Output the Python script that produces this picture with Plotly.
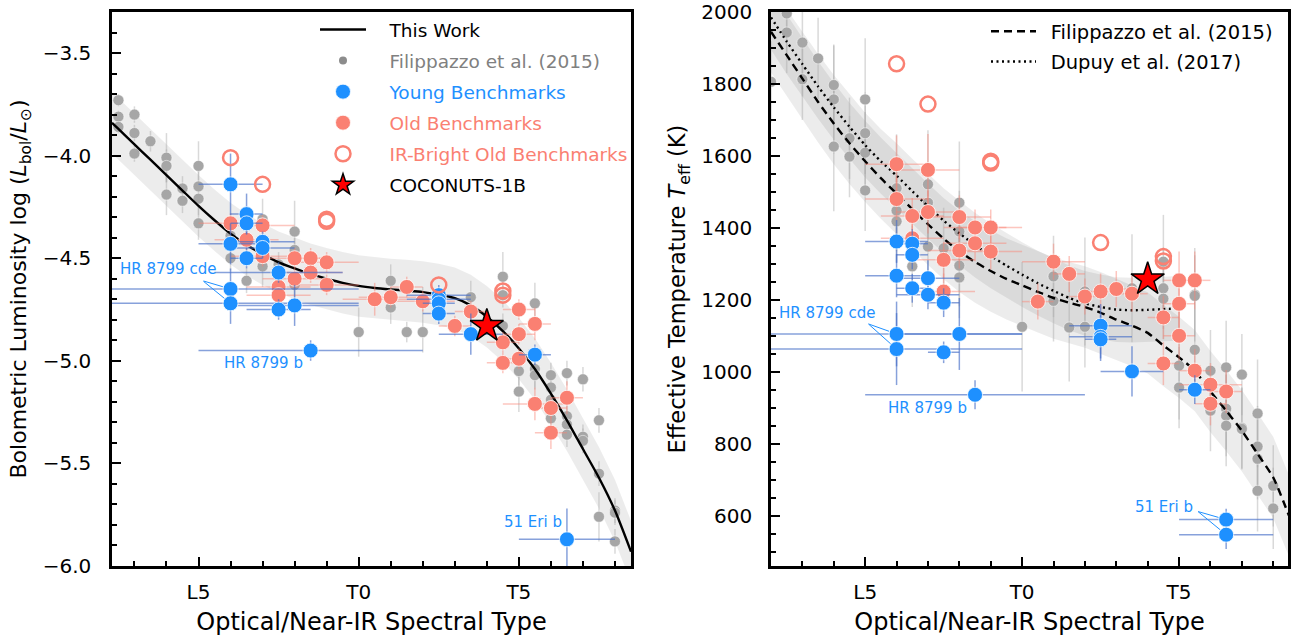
import plotly.graph_objects as go
import numpy as np

FONT = "DejaVu Sans"
BLUE = "#1E90FF"
SALMON = "#FA8072"
GRAYPT = "#a6a6a6"
BLUE_ERR = "rgba(70,110,200,0.65)"
SAL_ERR = "rgba(250,128,114,0.45)"
GRAY_ERR = "rgba(170,170,170,0.45)"

# ---------------- Left panel: Lbol vs SpT ----------------
# spectral type code: L0=10, L5=15, T0=20, T5=25
fil_l_spt = [12.5, 12.5, 12.5, 13, 13, 13, 13.5, 14, 14, 14, 14.5, 14.5, 15, 15, 15, 15,
             16, 16, 16.5, 17, 17, 17.5, 18, 18, 18, 20, 21, 21, 21.5, 22, 22, 23.5,
             24.5, 24.5, 24.5, 25.5, 25, 25, 25.5, 25.5, 26, 26, 26, 26, 26.5, 26.5, 26.5,
             26.5, 27, 27, 27, 27.5, 27.5, 27.5, 28, 28, 28]
fil_l_lbol = [-3.73, -3.81, -3.86, -3.80, -3.89, -3.99, -3.93, -4.01, -4.05, -4.19, -4.16, -4.22,
              -4.05, -4.15, -4.21, -4.33, -4.39, -4.50, -4.61, -4.31, -4.54, -4.53, -4.37, -4.46,
              -4.63, -4.86, -4.61, -4.74, -4.86, -4.86, -4.70, -4.69, -4.59, -4.68, -4.83, -4.72,
              -5.05, -5.15, -5.04, -5.07, -5.07, -5.13, -5.19, -5.28, -5.06, -5.27, -5.31, -5.36,
              -5.09, -5.37, -5.39, -5.29, -5.55, -5.76, -5.73, -5.74, -5.88]
fil_l_err = [0.03, 0.03, 0.03, 0.04, 0.04, 0.04, 0.05, 0.12, 0.08, 0.1, 0.06, 0.06, 0.12, 0.08,
             0.08, 0.08, 0.06, 0.06, 0.06, 0.1, 0.1, 0.06, 0.15, 0.06, 0.06, 0.12, 0.08, 0.08, 0.05,
             0.1, 0.06, 0.08, 0.12, 0.06, 0.06, 0.1, 0.1, 0.1, 0.1, 0.06, 0.06, 0.08, 0.06, 0.06,
             0.06, 0.08, 0.06, 0.06, 0.06, 0.06, 0.06, 0.06, 0.06, 0.12, 0.06, 0.06, 0.06]

yb_l_spt = [16, 16.5, 16.5, 16, 17, 17, 16.5, 17.5, 16, 16, 17.5, 18, 22.5, 22.5, 22.5, 22.5,
            23.5, 25.5, 18.5, 26.5]
yb_l_lbol = [-4.14, -4.285, -4.33, -4.43, -4.42, -4.45, -4.50, -4.57, -4.65, -4.72, -4.75, -4.73,
             -4.68, -4.70, -4.72, -4.77, -4.87, -4.97, -4.95, -5.87]
yb_l_ex = [1, 0.5, 0.5, 1, 1, 1, 0.5, 2, 4, 4, 1, 2, 1, 1, 0.5, 0.5, 1, 0.5, 3.5, 1.5]
yb_l_ey = [0.15, 0.1, 0.05, 0.1, 0.05, 0.05, 0.05, 0.05, 0.1, 0.1, 0.05, 0.1, 0.05, 0.05, 0.05,
           0.05, 0.1, 0.05, 0.05, 0.15]

ob_l_spt = [16, 16.5, 17, 17, 17.5, 17.5, 18, 18, 18.5, 18.5, 19, 19, 20.5, 21, 21.5, 22, 23,
            23.5, 24.5, 24.5, 25, 25, 25, 25.5, 25.5, 26, 26, 26.5]
ob_l_lbol = [-4.33, -4.41, -4.34, -4.49, -4.64, -4.68, -4.50, -4.60, -4.50, -4.57, -4.52, -4.63,
             -4.70, -4.69, -4.64, -4.71, -4.83, -4.76, -4.91, -5.01, -4.75, -4.87, -4.99, -4.82,
             -5.21, -5.23, -5.35, -5.18]
ob_l_ex = [1, 1, 1, 1, 1, 1, 1, 1, 0.5, 1, 1, 1, 1, 1, 0.5, 1, 0.5, 0.5, 0.5, 0.5, 0.5, 0.5,
           0.5, 0.5, 1, 0.5, 0.5, 0.5]
ob_l_ey = [0.05, 0.05, 0.05, 0.05, 0.05, 0.05, 0.05, 0.05, 0.05, 0.05, 0.05, 0.05, 0.08, 0.05,
           0.05, 0.05, 0.05, 0.05, 0.05, 0.05, 0.05, 0.05, 0.05, 0.08, 0.08, 0.05, 0.08, 0.08]

ir_l_spt = [16, 17, 19, 19, 22.5, 24.5, 24.5]
ir_l_lbol = [-4.01, -4.14, -4.31, -4.32, -4.63, -4.66, -4.68]

star_spt = [24]
star_lbol = [-4.83]
star_teff = [1257]

# "This Work" polynomial relation
tw_spt = [12.3, 12.5, 13.0, 13.5, 14.0, 14.5, 15.0, 15.5, 16.0, 16.5, 17.0, 17.5, 18.0, 18.5,
          19.0, 19.5, 20.0, 20.5, 21.0, 21.5, 22.0, 22.5, 23.0, 23.5, 24.0, 24.5, 25.0, 25.5,
          26.0, 26.5, 27.0, 27.5, 28.0, 28.5]
tw_lbol = [-3.84, -3.87, -3.945, -4.02, -4.095, -4.17, -4.245, -4.315, -4.38, -4.435, -4.48,
           -4.52, -4.55, -4.578, -4.60, -4.62, -4.635, -4.645, -4.652, -4.658, -4.665, -4.677,
           -4.695, -4.73, -4.785, -4.855, -4.94, -5.04, -5.16, -5.29, -5.43, -5.57, -5.73,
           -5.93]
tw_rms = 0.15

# ---------------- Right panel: Teff vs SpT ----------------
fil_r_spt = [12, 12.5, 12.5, 13, 13, 13.5, 14, 14, 14, 14.5, 14.5, 15, 15, 15, 15, 16, 16, 16,
             16.5, 17, 17, 17, 17.5, 18, 18, 18, 18, 20, 21, 21, 21.5, 22, 22, 23.5, 24.5, 24.5,
             24.5, 25, 25, 25.5, 25.5, 25.5, 26, 26, 26.5, 26.5, 26.5, 26.5, 27, 27, 27, 27.5,
             27.5, 27.5, 27.5, 28, 28]
fil_r_teff = [1806, 1996, 1943, 1915, 1813, 1871, 1797, 1757, 1626, 1649, 1598, 1757, 1663, 1609,
              1504, 1510, 1448, 1418, 1293, 1521, 1470, 1348, 1343, 1470, 1390, 1295, 1262, 1125,
              1265, 1197, 1123, 1223, 1125, 1232, 1306, 1232, 1203, 1017, 956, 1214, 1211, 1061,
              1003, 892, 1012, 897, 878, 850, 992, 844, 841, 884, 792, 758, 669, 683, 620]
fil_r_err = [113, 113, 113, 150, 113, 113, 113, 150, 180, 113, 113, 170, 113, 113, 113, 150, 113,
             113, 113, 150, 113, 113, 113, 170, 113, 113, 113, 180, 113, 113, 150, 150, 113, 150,
             130, 113, 113, 150, 113, 130, 113, 113, 113, 113, 130, 113, 113, 113, 113, 113, 113,
             150, 113, 113, 113, 113, 113]

yb_r_spt = [16, 16.5, 16.5, 16, 16.5, 17, 17, 17.5, 16, 16, 18, 17.5, 18.5, 22.5, 22.5, 22.5,
            23.5, 25.5, 26.5, 26.5]
yb_r_teff = [1362, 1356, 1325, 1267, 1232, 1260, 1214, 1192, 1105, 1063, 1105, 1054, 936, 1128,
             1097, 1090, 1001, 950, 589, 547]
yb_r_ex = [1, 0.5, 0.5, 1, 0.5, 1, 1, 0.5, 4, 4, 2, 0.5, 3.5, 1, 1, 0.5, 1, 0.5, 1.5, 1.5]
yb_r_ey = [60, 40, 40, 60, 40, 50, 40, 40, 90, 100, 100, 30, 40, 60, 60, 60, 70, 40, 30, 40]

ob_r_spt = [16, 17, 16, 16.5, 17, 18, 18.5, 19, 18.5, 19, 18, 17.5, 16.5, 21, 21.5, 22.5, 23,
            23.5, 22, 20.5, 25, 25.5, 17.5, 24.5, 25, 25, 24.5, 25.5, 26, 26, 26.5]
ob_r_teff = [1577, 1561, 1480, 1433, 1444, 1430, 1401, 1401, 1357, 1334, 1337, 1311, 1371, 1306,
             1272, 1223, 1230, 1217, 1209, 1195, 1254, 1254, 1223, 1151, 1189, 1100, 1023, 1003,
             964, 911, 945]
ob_r_ex = [1, 1, 1, 1, 1, 1, 1, 1, 1, 1, 1, 1, 1, 1, 0.5, 0.5, 0.5, 0.5, 0.5, 0.5, 0.5, 0.5,
           1, 0.5, 0.5, 0.5, 0.5, 0.5, 1, 0.5, 0.5]
ob_r_ey = [80, 100, 60, 50, 60, 60, 50, 50, 50, 50, 50, 50, 50, 50, 50, 50, 50, 50, 50, 50, 80,
           80, 50, 60, 70, 70, 60, 60, 60, 60, 60]

ir_r_spt = [16, 17, 19, 19, 22.5, 24.5, 24.5]
ir_r_teff = [1856, 1744, 1585, 1580, 1359, 1320, 1308]

# Filippazzo et al. (2015) relation
f15_spt = [12.0, 12.5, 13.0, 13.5, 14.0, 14.5, 15.0, 15.5, 16.0, 16.5, 17.0, 17.5, 18.0, 18.5,
           19.0, 19.5, 20.0, 20.5, 21.0, 21.5, 22.0, 22.5, 23.0, 23.5, 24.0, 24.5, 25.0, 25.5,
           26.0, 26.5, 27.0, 27.5, 28.0, 28.5]
f15_teff = [1945, 1880, 1815, 1750, 1690, 1635, 1585, 1538, 1495, 1452, 1410, 1370, 1335, 1305,
            1280, 1258, 1240, 1222, 1205, 1192, 1180, 1164, 1145, 1128, 1108, 1073, 1040, 1003,
            945, 892, 836, 772, 706, 600]
f15_rms = 113
# Dupuy et al. (2017) relation
d17_spt = [12.0, 12.5, 13.0, 13.5, 14.0, 14.5, 15.0, 15.5, 16.0, 16.5, 17.0, 17.5, 18.0, 18.5,
           19.0, 19.5, 20.0, 20.5, 21.0, 21.5, 22.0, 22.5, 23.0, 23.5, 24.0, 24.5, 25.0]
d17_teff = [1985, 1918, 1855, 1793, 1735, 1681, 1630, 1585, 1545, 1502, 1460, 1420, 1385, 1352,
            1322, 1295, 1270, 1246, 1225, 1205, 1190, 1180, 1173, 1171, 1172, 1174, 1176]
d17_rms = 90

fig = go.Figure()


def band(x, y, rms, xa, ya):
    x = np.asarray(x, float)
    y = np.asarray(y, float)
    return go.Scatter(x=np.concatenate([x, x[::-1]]),
                      y=np.concatenate([y + rms, (y - rms)[::-1]]),
                      fill="toself", fillcolor="rgba(0,0,0,0.075)", mode="lines",
                      line=dict(width=0), hoverinfo="skip",
                      showlegend=False, xaxis=xa, yaxis=ya)


SP2 = "\u2002\u2002"

# ---- left panel traces
fig.add_trace(band(tw_spt, tw_lbol, tw_rms, "x", "y"))
fig.add_trace(go.Scatter(x=fil_l_spt, y=fil_l_lbol, mode="markers",
                         marker=dict(color=GRAYPT, size=11, line=dict(color="white", width=0.5)),
                         error_y=dict(type="data", array=fil_l_err, color=GRAY_ERR, thickness=1.5, width=0),
                         showlegend=False, xaxis="x", yaxis="y"))
# legend entry for the Filippazzo points (smaller symbol, as in the figure key)
fig.add_trace(go.Scatter(x=[None], y=[None], mode="markers",
                         marker=dict(color="#8c8c8c", size=8),
                         name=SP2 + "<span style='color:#808080'>Filippazzo et al. (2015)</span>",
                         legend="legend", legendgroup="b", legendrank=2, xaxis="x", yaxis="y"))
fig.add_trace(go.Scatter(x=tw_spt, y=tw_lbol, mode="lines",
                         line=dict(color="black", width=2.4, shape="spline", smoothing=0.6),
                         name=SP2 + "This Work", legend="legend", legendgroup="a", legendrank=1,
                         xaxis="x", yaxis="y"))
fig.add_trace(go.Scatter(x=ob_l_spt, y=ob_l_lbol, mode="markers",
                         marker=dict(color=SALMON, size=15, line=dict(color="white", width=0.8)),
                         error_x=dict(type="data", array=ob_l_ex, color=SAL_ERR, thickness=1.5, width=0),
                         error_y=dict(type="data", array=ob_l_ey, color=SAL_ERR, thickness=1.5, width=0),
                         name=SP2 + "<span style='color:#FA8072'>Old Benchmarks</span>",
                         legend="legend", legendgroup="d", legendrank=4, xaxis="x", yaxis="y"))
fig.add_trace(go.Scatter(x=yb_l_spt, y=yb_l_lbol, mode="markers",
                         marker=dict(color=BLUE, size=15, line=dict(color="white", width=0.8)),
                         error_x=dict(type="data", array=yb_l_ex, color=BLUE_ERR, thickness=1.5, width=0),
                         error_y=dict(type="data", array=yb_l_ey, color=BLUE_ERR, thickness=1.5, width=0),
                         name=SP2 + "<span style='color:#1E90FF'>Young Benchmarks</span>",
                         legend="legend", legendgroup="c", legendrank=3, xaxis="x", yaxis="y"))
fig.add_trace(go.Scatter(x=ir_l_spt, y=ir_l_lbol, mode="markers",
                         marker=dict(color="rgba(0,0,0,0)", size=15, line=dict(color=SALMON, width=2.5)),
                         name=SP2 + "<span style='color:#FA8072'>IR-Bright Old Benchmarks</span>",
                         legend="legend", legendgroup="e", legendrank=5, xaxis="x", yaxis="y"))
fig.add_trace(go.Scatter(x=star_spt, y=star_lbol, mode="markers",
                         marker=dict(symbol="star", color="red", size=25, line=dict(color="black", width=1.5)),
                         name=SP2 + "COCONUTS-1B", legend="legend", legendgroup="f", legendrank=6,
                         xaxis="x", yaxis="y"))

# ---- right panel traces
fig.add_trace(band(f15_spt, f15_teff, f15_rms, "x2", "y2"))
fig.add_trace(band(d17_spt, d17_teff, d17_rms, "x2", "y2"))
fig.add_trace(go.Scatter(x=fil_r_spt, y=fil_r_teff, mode="markers",
                         marker=dict(color=GRAYPT, size=11, line=dict(color="white", width=0.5)),
                         error_y=dict(type="data", array=fil_r_err, color=GRAY_ERR, thickness=1.5, width=0),
                         showlegend=False, xaxis="x2", yaxis="y2"))
fig.add_trace(go.Scatter(x=f15_spt, y=f15_teff, mode="lines",
                         line=dict(color="black", width=2.4, dash="8px,5px", shape="spline", smoothing=0.6),
                         name="\u2002Filippazzo et al. (2015)", legend="legend2", legendgroup="g",
                         legendrank=1, xaxis="x2", yaxis="y2"))
fig.add_trace(go.Scatter(x=d17_spt, y=d17_teff, mode="lines",
                         line=dict(color="black", width=2.4, dash="2px,3.5px", shape="spline", smoothing=0.6),
                         name="\u2002Dupuy et al. (2017)", legend="legend2", legendgroup="h",
                         legendrank=2, xaxis="x2", yaxis="y2"))
fig.add_trace(go.Scatter(x=ob_r_spt, y=ob_r_teff, mode="markers",
                         marker=dict(color=SALMON, size=15, line=dict(color="white", width=0.8)),
                         error_x=dict(type="data", array=ob_r_ex, color=SAL_ERR, thickness=1.5, width=0),
                         error_y=dict(type="data", array=ob_r_ey, color=SAL_ERR, thickness=1.5, width=0),
                         showlegend=False, xaxis="x2", yaxis="y2"))
fig.add_trace(go.Scatter(x=yb_r_spt, y=yb_r_teff, mode="markers",
                         marker=dict(color=BLUE, size=15, line=dict(color="white", width=0.8)),
                         error_x=dict(type="data", array=yb_r_ex, color=BLUE_ERR, thickness=1.5, width=0),
                         error_y=dict(type="data", array=yb_r_ey, color=BLUE_ERR, thickness=1.5, width=0),
                         showlegend=False, xaxis="x2", yaxis="y2"))
fig.add_trace(go.Scatter(x=ir_r_spt, y=ir_r_teff, mode="markers",
                         marker=dict(color="rgba(0,0,0,0)", size=15, line=dict(color=SALMON, width=2.5)),
                         showlegend=False, xaxis="x2", yaxis="y2"))
fig.add_trace(go.Scatter(x=star_spt, y=star_teff, mode="markers",
                         marker=dict(symbol="star", color="red", size=25, line=dict(color="black", width=1.5)),
                         showlegend=False, xaxis="x2", yaxis="y2"))

# ---- labels for named objects and their pointer lines
ann = []
shapes = []
def label(text, x, y, xa, ya, dx, dy):
    ann.append(dict(text=text, x=x, y=y, xref=xa, yref=ya, xshift=dx, yshift=dy, showarrow=False,
                    font=dict(family=FONT, size=15, color=BLUE)))

def pointer(x, y, xa, ya, tx, ty, gap=8.0):
    # line from a pixel offset (tx, ty; ty upward) to the edge of the marker at (x, y)
    d = (tx * tx + ty * ty) ** 0.5
    ex, ey = tx * gap / d, ty * gap / d
    shapes.append(dict(type="line", xref=xa, yref=ya, xsizemode="pixel", ysizemode="pixel",
                       xanchor=x, yanchor=y, x0=tx, y0=ty, x1=ex, y1=ey,
                       line=dict(color=BLUE, width=1)))

# left
label("HR 8799 cde", yb_l_spt[8], yb_l_lbol[8], "x", "y", -63, 20)
pointer(yb_l_spt[8], yb_l_lbol[8], "x", "y", -27, 8)
pointer(yb_l_spt[9], yb_l_lbol[9], "x", "y", -27, 22)
label("HR 8799 b", yb_l_spt[18], yb_l_lbol[18], "x", "y", -47, -12)
label("51 Eri b", yb_l_spt[19], yb_l_lbol[19], "x", "y", -34, 17)
# right
label("HR 8799 cde", yb_r_spt[8], yb_r_teff[8], "x2", "y2", -70, 21)
pointer(yb_r_spt[8], yb_r_teff[8], "x2", "y2", -28, 10)
pointer(yb_r_spt[9], yb_r_teff[9], "x2", "y2", -28, 25)
label("HR 8799 b", yb_r_spt[12], yb_r_teff[12], "x2", "y2", -48, -13)
label("51 Eri b", yb_r_spt[18], yb_r_teff[18], "x2", "y2", -62, 13)
pointer(yb_r_spt[18], yb_r_teff[18], "x2", "y2", -28, 8)
pointer(yb_r_spt[19], yb_r_teff[19], "x2", "y2", -28, 23)

axis_common = dict(showline=True, linewidth=2.5, linecolor="black", mirror=True, ticks="inside",
                   ticklen=9, tickwidth=2.2, tickcolor="black", showgrid=False, zeroline=False,
                   automargin=False,
                   tickfont=dict(family=FONT, size=20, color="black"))

xspt = dict(axis_common, tickmode="array", tickvals=[15, 20, 25], ticktext=["L5", "T0", "T5"],
            minor=dict(tickmode="linear", tick0=0, dtick=1, ticks="inside", ticklen=5,
                       tickwidth=1.8, tickcolor="black"),
            title=dict(text="Optical/Near-IR Spectral Type", standoff=11,
                       font=dict(family=FONT, size=24, color="black")),
            ticklabelstandoff=6)

fig.update_layout(
    width=1291, height=637, margin=dict(l=0, r=0, t=0, b=0, autoexpand=False),
    paper_bgcolor="white", plot_bgcolor="white",
    font=dict(family=FONT, color="black"),
    xaxis=dict(xspt, domain=[112 / 1291, 631 / 1291], range=[12.3, 28.5], anchor="y"),
    yaxis=dict(axis_common, domain=[71 / 637, 625 / 637], range=[-6.0, -3.3], anchor="x",
               dtick=0.5, tick0=0, tickformat=".1f", ticklabelstandoff=14,
               minor=dict(dtick=0.1, ticks="inside", ticklen=5, tickwidth=1.8, tickcolor="black"),
               title=dict(text="Bolometric Luminosity log (<i>L</i><sub>bol</sub>/<i>L</i><sub>⊙</sub>)",
                          standoff=10, font=dict(family=FONT, size=22, color="black"))),
    xaxis2=dict(xspt, domain=[771 / 1291, 1288 / 1291], range=[12.0, 28.47], anchor="y2"),
    yaxis2=dict(axis_common, domain=[71 / 637, 625 / 637], range=[460, 2000], anchor="x2",
                dtick=200, tick0=0, ticklabelstandoff=12,
                minor=dict(dtick=50, ticks="inside", ticklen=5, tickwidth=1.8, tickcolor="black"),
                title=dict(text="Effective Temperature <i>T</i><sub>eff</sub> (K)", standoff=10,
                           font=dict(family=FONT, size=22.5, color="black"))),
    legend=dict(x=315 / 1291, y=1 - 11 / 637, xanchor="left", yanchor="top",
                bgcolor="rgba(0,0,0,0)", font=dict(family=FONT, size=18.5, color="black"),
                traceorder="grouped", tracegroupgap=4, itemwidth=46),
    legend2=dict(x=986 / 1291, y=1 - 12 / 637, xanchor="left", yanchor="top",
                 bgcolor="rgba(0,0,0,0)", font=dict(family=FONT, size=19.5, color="black"),
                 traceorder="grouped", tracegroupgap=2, itemwidth=45),
    annotations=ann,
    shapes=shapes,
)

fig.write_html("out.html")
